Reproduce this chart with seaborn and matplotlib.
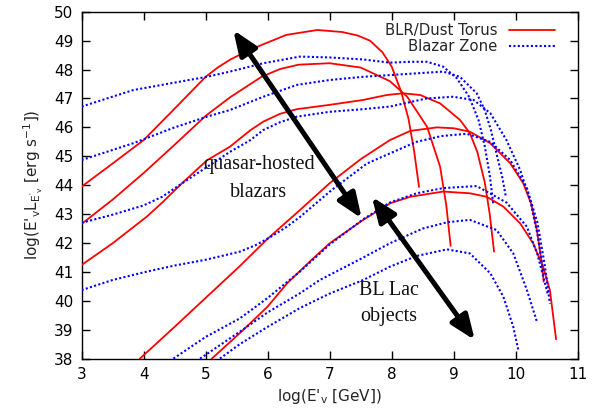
import matplotlib
matplotlib.use("Agg")
import matplotlib.pyplot as plt
from matplotlib.lines import Line2D
import seaborn as sns
import pandas as pd

# ---- data ----
r1_x = [3.0, 3.5, 4.0, 4.5, 5.0, 5.2, 5.4, 5.65, 5.9, 6.3, 6.8, 7.2, 7.45, 7.65, 7.85, 8.0, 8.15, 8.27, 8.36, 8.44]
r1_y = [43.95, 44.75, 45.56, 46.65, 47.75, 48.08, 48.35, 48.62, 48.85, 49.2, 49.37, 49.3, 49.18, 49.0, 48.6, 48.1, 47.25, 46.3, 45.2, 43.94]
r2_x = [3.0, 3.5, 4.0, 4.5, 5.0, 5.4, 5.9, 6.2, 6.5, 7.0, 7.5, 7.97, 8.25, 8.57, 8.78, 8.88, 8.95]
r2_y = [42.66, 43.5, 44.42, 45.4, 46.4, 47.05, 47.75, 48.02, 48.17, 48.22, 48.07, 47.6, 47.06, 46.02, 44.64, 43.3, 41.9]
r3_x = [3.0, 3.5, 4.05, 4.3, 4.61, 5.02, 5.39, 5.72, 5.93, 6.2, 6.47, 7.0, 7.54, 7.92, 8.18, 8.46, 8.78, 9.1, 9.26, 9.38, 9.5, 9.58, 9.65]
r3_y = [41.24, 41.99, 42.91, 43.4, 44.05, 44.86, 45.33, 45.9, 46.2, 46.47, 46.63, 46.78, 46.95, 47.12, 47.18, 47.12, 46.83, 46.26, 45.8, 45.15, 44.1, 43.0, 41.7]
r4_x = [3.94, 4.5, 5.0, 5.55, 6.0, 6.52, 7.0, 7.5, 7.97, 8.3, 8.73, 9.0, 9.26, 9.59, 9.91, 10.12, 10.25, 10.34, 10.42, 10.45]
r4_y = [38.0, 39.1, 40.1, 41.2, 42.15, 43.14, 44.07, 44.9, 45.56, 45.88, 46.0, 45.97, 45.85, 45.45, 44.76, 44.07, 43.35, 42.45, 41.3, 40.66]
r5_x = [5.1, 5.55, 6.0, 6.31, 6.7, 7.0, 7.54, 7.97, 8.3, 8.83, 9.26, 9.53, 9.8, 10.07, 10.28, 10.44, 10.55, 10.65]
r5_y = [38.0, 38.88, 39.8, 40.6, 41.4, 41.99, 42.8, 43.37, 43.6, 43.78, 43.72, 43.6, 43.26, 42.68, 41.99, 41.18, 40.37, 38.67]

b1_x = [3.0, 3.83, 4.5, 5.02, 5.39, 5.93, 6.52, 7.0, 7.54, 7.97, 8.3, 8.57, 8.83, 9.05, 9.25, 9.4, 9.5, 9.58, 9.64]
b1_y = [46.72, 47.29, 47.55, 47.75, 47.93, 48.22, 48.45, 48.42, 48.35, 48.24, 48.27, 48.27, 48.1, 47.7, 47.05, 46.25, 45.35, 44.35, 43.3]
b2_x = [3.0, 3.83, 4.5, 5.02, 5.39, 5.93, 6.47, 7.0, 7.54, 7.97, 8.4, 8.83, 9.1, 9.37, 9.5, 9.6, 9.7, 9.78, 9.84]
b2_y = [44.87, 45.45, 46.0, 46.37, 46.6, 47.06, 47.47, 47.64, 47.75, 47.81, 47.87, 47.93, 47.75, 47.18, 46.6, 45.9, 45.0, 44.3, 43.6]
b3_x = [3.0, 3.5, 4.0, 4.3, 4.61, 5.0, 5.39, 5.72, 5.93, 6.2, 6.47, 7.0, 7.54, 7.97, 8.56, 8.99, 9.32, 9.59, 9.85, 10.07, 10.23, 10.35, 10.45]
b3_y = [42.7, 42.98, 43.3, 43.6, 44.05, 44.6, 45.15, 45.56, 45.91, 46.18, 46.37, 46.54, 46.63, 46.72, 47.0, 47.06, 46.95, 46.49, 45.56, 44.53, 43.49, 42.3, 40.9]
b4_x = [3.0, 3.5, 4.05, 4.5, 5.0, 5.55, 5.8, 6.04, 6.3, 6.52, 7.03, 7.6, 7.97, 8.4, 8.8, 9.21, 9.59, 9.91, 10.18, 10.35, 10.47, 10.55]
b4_y = [40.37, 40.72, 41.01, 41.22, 41.42, 41.7, 41.92, 42.2, 42.55, 42.9, 43.83, 44.75, 45.1, 45.5, 45.7, 45.78, 45.5, 44.87, 43.9, 42.7, 41.2, 39.9]
b5_x = [4.48, 5.0, 5.55, 6.0, 6.52, 7.0, 7.54, 7.97, 8.4, 8.83, 9.37, 9.85, 10.18, 10.35, 10.46, 10.52]
b5_y = [38.0, 38.75, 39.39, 40.1, 41.01, 41.95, 42.82, 43.4, 43.72, 43.9, 43.97, 43.4, 42.56, 41.6, 40.7, 40.2]
b6_x = [4.91, 5.55, 6.0, 6.52, 6.84, 7.5, 7.97, 8.5, 8.9, 9.26, 9.69, 9.96, 10.18, 10.34]
b6_y = [38.0, 38.93, 39.6, 40.26, 40.72, 41.45, 41.99, 42.5, 42.72, 42.8, 42.45, 41.64, 40.37, 39.28]
b7_x = [5.23, 5.55, 6.0, 6.52, 7.0, 7.54, 7.97, 8.4, 8.89, 9.26, 9.59, 9.8, 9.96, 10.04]
b7_y = [38.0, 38.5, 39.1, 39.75, 40.25, 40.72, 41.18, 41.55, 41.78, 41.64, 40.95, 40.14, 39.1, 38.3]

red_curves = [(r1_x, r1_y), (r2_x, r2_y), (r3_x, r3_y), (r4_x, r4_y), (r5_x, r5_y)]
blue_curves = [(b1_x, b1_y), (b2_x, b2_y), (b3_x, b3_y), (b4_x, b4_y), (b5_x, b5_y), (b6_x, b6_y), (b7_x, b7_y)]

legend_labels = ["BLR/Dust Torus", "Blazar Zone"]
x_ticks = [3, 4, 5, 6, 7, 8, 9, 10, 11]
y_ticks = [38, 39, 40, 41, 42, 43, 44, 45, 46, 47, 48, 49, 50]

# annotations: (x, y) in data units
arrow1_start, arrow1_end = (7.516, 42.85), (5.445, 49.37)
arrow2_start, arrow2_end = (7.68, 43.6), (9.34, 38.64)
quasar_lines = ["quasar-hosted", "blazars"]
quasar_pos = [(5.86, 44.7), (5.86, 43.73)]
bllac_lines = ["BL Lac", "objects"]
bllac_pos = [(7.96, 40.37), (7.96, 39.45)]

# ---- plotting ----
sns.set_style("ticks")
plt.rcParams["font.family"] = ["DejaVu Sans"]
plt.rcParams["mathtext.default"] = "regular"

fig = plt.figure(figsize=(6.0, 4.12), dpi=100)
ax = fig.add_axes([0.136, 0.1296, 0.827, 0.8418])

RED = "#ff0000"
BLUE = "#0000ff"
DOTS = (0, (1.0, 1.1))

for xs, ys in red_curves:
    df = pd.DataFrame({"x": xs, "y": ys})
    sns.lineplot(data=df, x="x", y="y", ax=ax, sort=False, estimator=None,
                 color=RED, linewidth=1.3, zorder=3)
for xs, ys in blue_curves:
    df = pd.DataFrame({"x": xs, "y": ys})
    sns.lineplot(data=df, x="x", y="y", ax=ax, sort=False, estimator=None,
                 color=BLUE, linewidth=1.5, linestyle=DOTS, zorder=3)

ax.set_xlim(3, 11)
ax.set_ylim(38, 50)
ax.set_xticks(x_ticks)
ax.set_yticks(y_ticks)
ax.tick_params(direction="in", top=True, right=True, length=6, width=1,
               labelsize=11, colors="black", pad=6)
for s in ax.spines.values():
    s.set_visible(True)
    s.set_color("black")
    s.set_linewidth(1.0)

ax.set_xlabel(r"log(E$'_{v}$ [GeV])", fontsize=11, labelpad=4)
ax.set_ylabel(r"log(E$'_{v}$L$_{E'_{v}}$ [erg s$^{-1}$])", fontsize=11, labelpad=6)

# arrows
for a0, a1 in [(arrow1_start, arrow1_end), (arrow2_start, arrow2_end)]:
    ax.annotate("", xy=a1, xytext=a0,
                arrowprops=dict(arrowstyle="<|-|>,head_length=0.75,head_width=0.3",
                                mutation_scale=20, lw=3.6, color="black",
                                shrinkA=0, shrinkB=0), zorder=5)

for txt, (tx, ty) in zip(quasar_lines + bllac_lines, quasar_pos + bllac_pos):
    ax.text(tx, ty, txt, ha="center", va="center", fontsize=14.5,
            family="Liberation Serif", color="#111111", zorder=6)

handles = [Line2D([], [], color=RED, linewidth=1.3),
           Line2D([], [], color=BLUE, linewidth=1.5, linestyle=DOTS)]
leg = ax.legend(handles, legend_labels, loc="upper right", bbox_to_anchor=(0.975, 0.997),
                frameon=False, markerfirst=False, handlelength=3.1, handletextpad=0.8,
                labelspacing=0.05, borderpad=0.2, fontsize=10.7)

fig.savefig("out.png", dpi=100)
